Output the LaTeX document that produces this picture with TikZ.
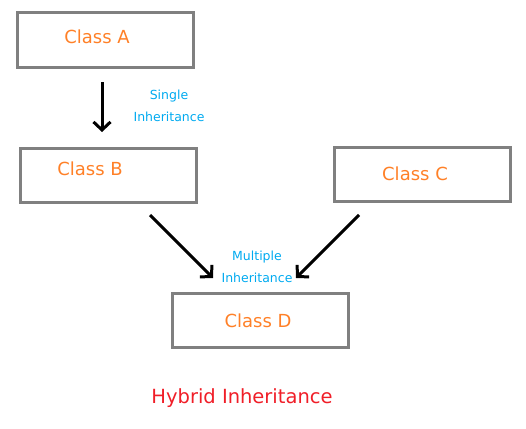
\documentclass[tikz,border=0pt]{standalone}
\usepackage{fontspec}
\setmainfont{DejaVu Sans}
\usetikzlibrary{arrows.meta}
\definecolor{boxgray}{RGB}{128,128,128}
\definecolor{clsorange}{RGB}{255,128,39}
\definecolor{lblblue}{RGB}{0,170,240}
\definecolor{titlered}{RGB}{240,30,40}
\begin{document}
\begin{tikzpicture}[x=1pt,y=-1pt,
  classbox/.style={draw=boxgray,line width=3pt,minimum width=176pt,minimum height=54pt,inner sep=0pt,anchor=north west},
  clstext/.style={text=clsorange,font=\fontsize{18}{21}\selectfont,inner sep=0pt},
  lbl/.style={text=lblblue,font=\fontsize{12.5}{22}\selectfont,inner sep=0pt,align=center},
  arr/.style={draw=black,line width=3pt,-{Straight Barb[length=8pt,width=17pt,line width=3pt]}}]
\useasboundingbox (0,0) rectangle (526,428);
\node[classbox] (A) at (15.5,11.5) {};
\node[classbox] (B) at (18.5,146.5) {};
\node[classbox] (C) at (332.5,145.5) {};
\node[classbox] (D) at (170.5,291.5) {};
\node[clstext] (tA) at (97,37) {Class A};
\node[clstext] (tB) at (90,169) {Class B};
\node[clstext] (tC) at (415,174) {Class C};
\node[clstext] (tD) at (258,321) {Class D};
\node[lbl] (single) at (169,106) {Single\\Inheritance};
\node[lbl] (multi) at (257,267) {Multiple\\Inheritance};
\node[text=titlered,font=\fontsize{19.5}{22}\selectfont,inner sep=0pt] (title) at (242,398) {Hybrid Inheritance};
\coordinate (a1) at (102,82);
\coordinate (b0) at (102,132);
\coordinate (b1) at (150,215);
\coordinate (d1) at (213,278);
\coordinate (c1) at (359,215);
\coordinate (d2) at (296,278);
\draw[arr] (a1) -- (b0);
\draw[arr] (b1) -- (d1);
\draw[arr] (c1) -- (d2);
\end{tikzpicture}
\end{document}
